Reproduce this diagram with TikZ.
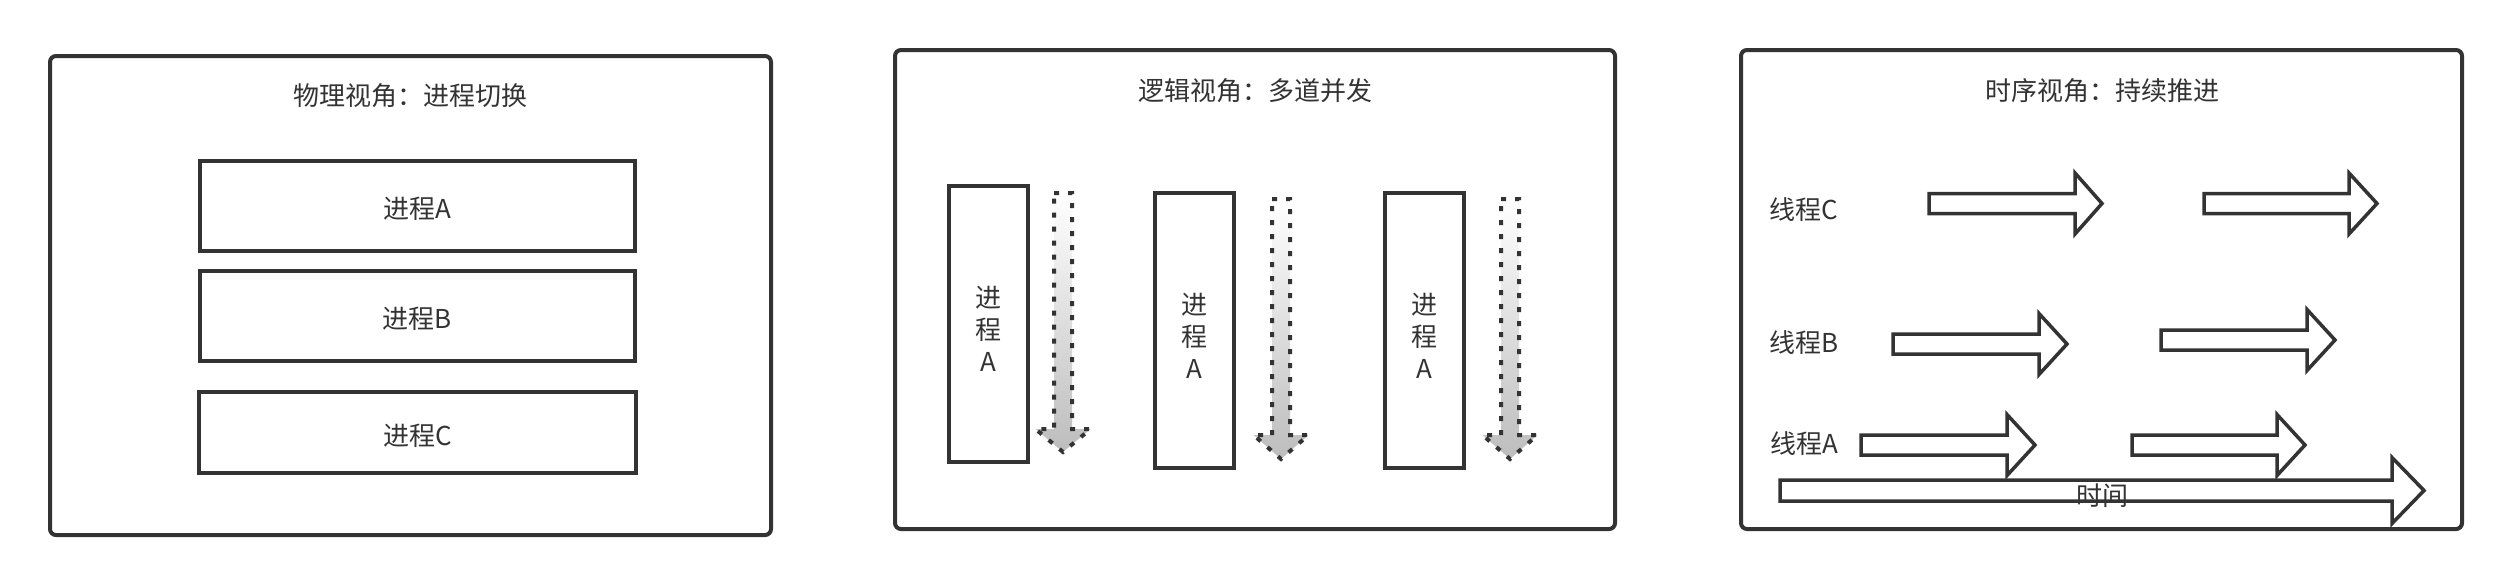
\documentclass[tikz,border=0pt]{standalone}
\usepackage{fontspec}
\setmainfont{Noto Sans CJK SC}
\usetikzlibrary{fit}
\definecolor{ink}{HTML}{333333}
\newcommand\blockarr[6]{% left, head base, tip, centre y, half shaft, half head
  \draw[blockarrow] (#1,#4-#5) -- (#2,#4-#5) -- (#2,#4-#6) -- (#3,#4) -- (#2,#4+#6) -- (#2,#4+#5) -- (#1,#4+#5) -- cycle;}
\newcommand\flowarr[4]{% centre x, top, head base, tip
  \path[flowarrow] (#1-9,#2) -- (#1+9,#2) -- (#1+9,#3) -- (#1+27.5,#3) -- (#1,#4) -- (#1-27.5,#3) -- (#1-9,#3) -- cycle;}
\begin{document}
\begin{tikzpicture}[x=0.5pt,y=-0.5pt,
  panel/.style={draw=ink, line width=2pt, rounded corners=3pt, inner sep=0pt},
  procbox/.style={draw=ink, line width=2pt, inner sep=0pt, font=\fontsize{13pt}{16pt}\selectfont, text=ink},
  tallbox/.style={procbox, align=center, minimum width=39.5pt},
  lbl/.style={font=\fontsize{13pt}{15.5pt}\selectfont, text=ink, inner sep=0pt},
  boxlbl/.style={lbl, yshift=-1.5pt},
  blockarrow/.style={draw=ink, line width=1.75pt, fill=white, line join=miter},
  flowarrow/.style={draw=ink, line width=2pt, dash pattern=on 2.5pt off 4.5pt, top color=white, bottom color=black!26}]
\useasboundingbox (0,0) rectangle (2512,586);
% panel 1
\node[panel, fit={(50,56) (771,535)}] (p1) {};
\node[lbl] (t1) at (410.5,96) {物理视角：进程切换};
\node[procbox, minimum width=217.5pt, minimum height=45pt] (pa) at (417.5,206) {};
\node[procbox, minimum width=217.5pt, minimum height=45pt] (pb) at (417.5,316) {};
\node[procbox, minimum width=218.5pt, minimum height=40.5pt] (pc) at (417.5,432.5) {};
\node[boxlbl] (ta) at (pa.center) {进程A};
\node[boxlbl] (tb) at (pb.center) {进程B};
\node[boxlbl] (tc) at (pc.center) {进程C};
% panel 2
\node[panel, fit={(895,50) (1615,529)}] (p2) {};
\node[lbl] (t2) at (1255,91) {逻辑视角：多道并发};
\node[tallbox, minimum height=138pt] (r1) at (988.5,324) {};
\node[tallbox, minimum height=137.5pt] (r2) at (1194.5,330.5) {};
\node[tallbox, minimum height=137.5pt] (r3) at (1424.5,330.5) {};
\node[tallbox, draw=none, yshift=-2.5pt] (v1) at (r1.center) {进\\程\\A};
\node[tallbox, draw=none, yshift=-2.5pt] (v2) at (r2.center) {进\\程\\A};
\node[tallbox, draw=none, yshift=-2.5pt] (v3) at (r3.center) {进\\程\\A};
\flowarr{1063}{193}{429}{452}
\flowarr{1281}{199}{435}{459}
\flowarr{1510}{199}{435}{459}
% panel 3
\node[panel, fit={(1741,50) (2462,529)}] (p3) {};
\node[lbl] (t3) at (2102,91) {时序视角：持续推进};
\node[lbl] (lc) at (1804,210) {线程C};
\node[lbl] (lb) at (1804,343) {线程B};
\node[lbl] (la) at (1804,444) {线程A};
\blockarr{1929}{2075}{2102}{203.5}{10}{30.5}
\blockarr{2204}{2349}{2377}{203.5}{10}{30.5}
\blockarr{1893}{2039}{2067}{344}{10}{30.5}
\blockarr{2161}{2307}{2335}{340}{10}{30.5}
\blockarr{1861}{2007}{2035}{445}{10}{30.5}
\blockarr{2132}{2277}{2305}{445}{10}{30.5}
\blockarr{1780}{2392}{2424}{490.5}{10.5}{33}
\node[lbl] (tm) at (2102,496) {时间};
\end{tikzpicture}
\end{document}
